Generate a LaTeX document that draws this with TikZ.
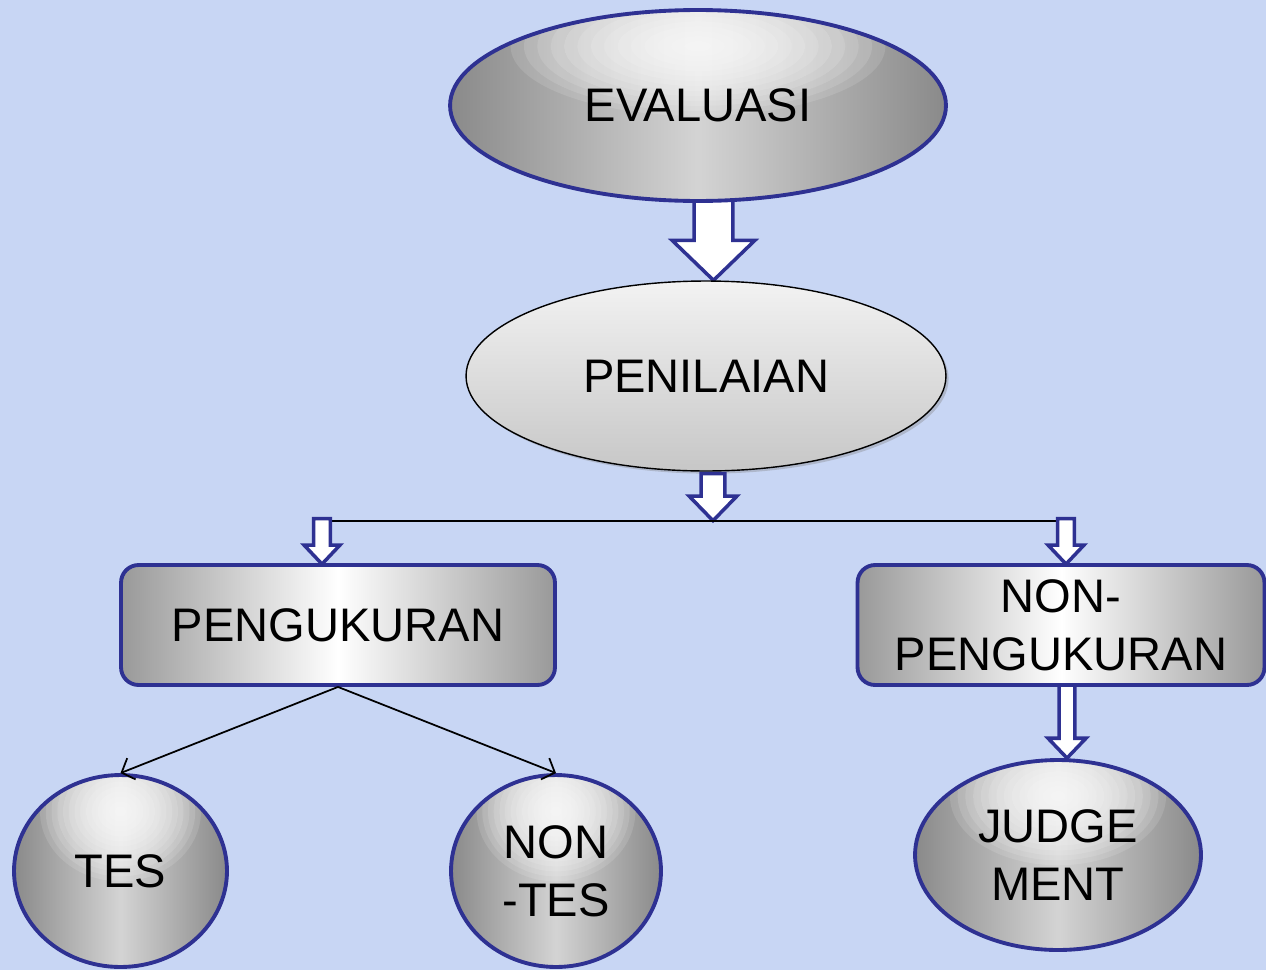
\documentclass[tikz,border=0pt]{standalone}
\usepackage{fontspec}
\setmainfont{Liberation Sans}
\usetikzlibrary{calc,arrows.meta,shapes.geometric,shadows}
\definecolor{navy}{RGB}{46,49,146}
\definecolor{bgblue}{RGB}{200,214,244}
\pgfdeclarelayer{bglayer}
\pgfdeclarelayer{under}
\pgfsetlayers{bglayer,under,main}
\tikzset{
  lbl/.style={font=\fontsize{26.8}{33}\selectfont, align=center, text=black, inner sep=0pt},
  ball/.style={ellipse, lbl, draw=navy, line width=2.2pt,
    left color=black!46, right color=black!46, middle color=black!17,
    path picture={
      \foreach \k in {1,...,14}{
        \fill[white, fill opacity=0.12] let \p1=($(path picture bounding box.north east)-(path picture bounding box.south west)$) in
          ($(path picture bounding box.center)!0.62!(path picture bounding box.north)$)
          ellipse [x radius={\k*0.027*\x1}, y radius={\k*0.026*\y1}];
      }
    }},
  penstyle/.style={ellipse, lbl, draw=black, line width=0.8pt,
    top color=black!5, bottom color=black!22,
    drop shadow={shadow xshift=1.5pt, shadow yshift=-1.5pt, opacity=0.35}},
  boxstyle/.style={rectangle, rounded corners=10pt, lbl, draw=navy, line width=2.2pt,
    left color=black!40, right color=black!40, middle color=white},
  blockarr/.style={draw=navy, fill=white, line width=2pt, line join=miter},
  hline/.style={draw=black, line width=1pt},
  conn/.style={draw=black, line width=1pt, -{Straight Barb[length=6pt, width=13pt, line width=1pt]}}
}
% #1 start (x and top), #2 end (tip y), #3 shaft half width, #4 head half width, #5 head length
\newcommand\blockarrow[5]{%
  \draw[blockarr] let \p1=(#1), \p2=(#2) in
    (\x1-#3,\y1) -- (\x1-#3,\y2+#5) -- (\x1-#4,\y2+#5) -- (\x1,\y2)
    -- (\x1+#4,\y2+#5) -- (\x1+#3,\y2+#5) -- (\x1+#3,\y1) -- cycle;}

\begin{document}
\begin{tikzpicture}[x=0.02cm, y=-0.02cm]
\useasboundingbox (0,0) rectangle (1266,970);
\begin{pgfonlayer}{bglayer}
  \fill[bgblue] (0,0) rectangle (1266,970);
\end{pgfonlayer}

% nodes
\node[ball, minimum width=9.92cm, minimum height=3.82cm] (eval) at (698,105.5) {EVALUASI};
\node[penstyle, minimum width=9.6cm, minimum height=3.8cm] (pen) at (706,376) {PENILAIAN};
\node[boxstyle, minimum width=8.68cm, minimum height=2.4cm] (peng) at (338,625) {PENGUKURAN};
\node[boxstyle, minimum width=8.14cm, minimum height=2.4cm] (nonpeng) at (1061,625) {NON-\\PENGUKURAN};
\node[ball, minimum width=4.26cm, minimum height=3.84cm] (tes) at (120.5,871) {TES};
\node[ball, minimum width=4.2cm, minimum height=3.84cm] (nontes) at (556,871) {NON\\-TES};
\node[ball, minimum width=5.72cm, minimum height=3.8cm] (judge) at (1058,855) {JUDGE\\MENT};

% helper coordinates
\coordinate (a1s) at ($(eval.south)+(15.5,-8)$);
\coordinate (a2s) at ($(pen.south)+(7,2)$);
\coordinate (split) at ($(pen.south)+(7,49)$);
\coordinate (lt) at ($(peng.north)+(-16,1)$);
\coordinate (rt) at ($(nonpeng.north)+(5,1)$);
\coordinate (a3s) at ($(nonpeng.south)+(6,-6)$);

\begin{pgfonlayer}{under}
  \blockarrow{a1s}{pen.north}{11pt}{23.5pt}{22.7pt}
  \blockarrow{a3s}{judge.north}{4.5pt}{10.8pt}{11.3pt}
\end{pgfonlayer}

\blockarrow{a2s}{split}{6.8pt}{13.6pt}{14pt}
\draw[hline] (split -| lt) -- (split -| rt);
\blockarrow{$(split -| lt)+(0,-2)$}{lt}{4.8pt}{10.2pt}{10.8pt}
\blockarrow{$(split -| rt)+(0,-2)$}{rt}{4.8pt}{10.2pt}{10.8pt}

\draw[conn] (peng.south) -- (tes.north);
\draw[conn] (peng.south) -- (nontes.north);
\end{tikzpicture}
\end{document}
